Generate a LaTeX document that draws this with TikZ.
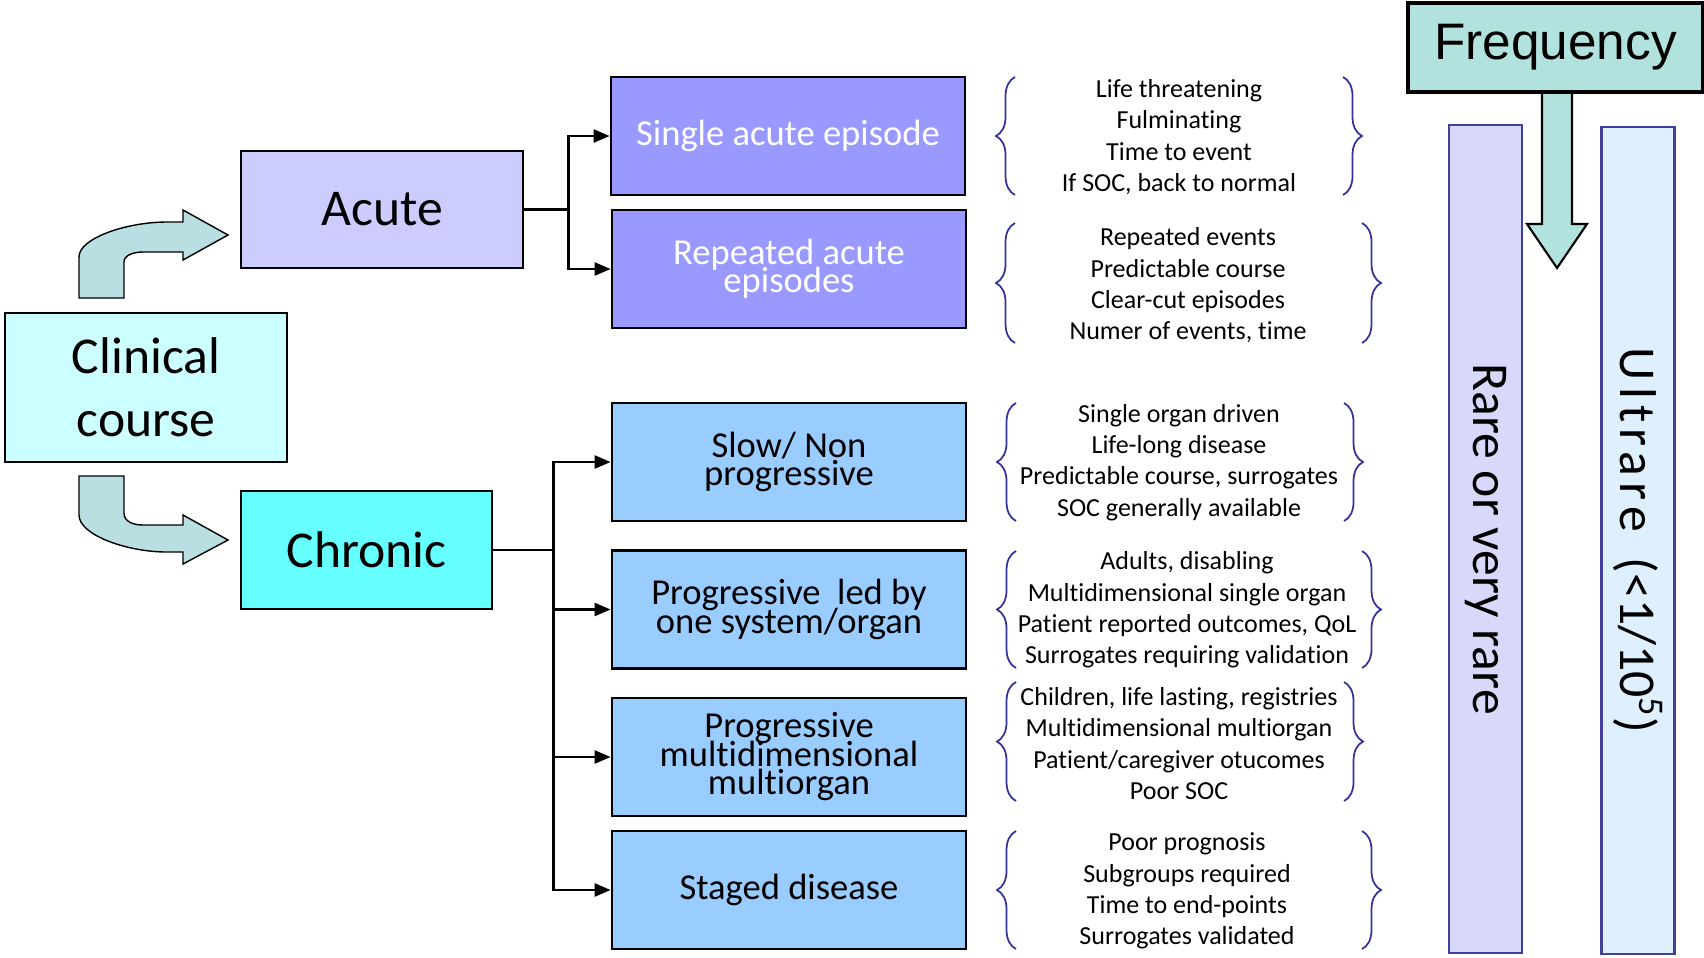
\documentclass[tikz,border=0pt]{standalone}
\usepackage{fontspec}
\setmainfont{Carlito}[Ligatures=NoCommon]
\newfontfamily\arialfont{Liberation Sans}
\usetikzlibrary{arrows.meta,decorations.pathreplacing}

\definecolor{clincol}{HTML}{CCFFFF}
\definecolor{acutecol}{HTML}{CCCCFF}
\definecolor{chroncol}{HTML}{66FFFF}
\definecolor{episcol}{HTML}{9999FF}
\definecolor{progcol}{HTML}{99CCFF}
\definecolor{curvecol}{HTML}{B9DFE2}
\definecolor{bracecol}{HTML}{333399}
\definecolor{freqcol}{HTML}{B2E2DD}
\definecolor{rarecol}{HTML}{D8D8FB}
\definecolor{ultracol}{HTML}{DEEFFD}
\definecolor{barline}{HTML}{40409A}

\newcommand\tightlines{\lineskiplimit=-10pt\relax}

\tikzset{
  bigfont/.style={font=\fontsize{14.7}{18}\selectfont},
  mainbox/.style={draw, line width=0.8pt, bigfont, align=center},
  subbox/.style={draw, line width=0.8pt, minimum width=3.54cm, minimum height=1.18cm,
    align=center, font=\fontsize{10.4}{8.1}\selectfont\tightlines},
  feat/.style={align=center, font=\fontsize{7.4}{8.9}\selectfont},
  curly/.style={decorate, decoration={brace, amplitude=0.19cm}, draw=bracecol, line width=0.5pt},
  link/.style={line width=0.7pt, -{Triangle[length=0.16cm,width=0.13cm]}},
  fatarrow/.style={fill=curvecol, draw=black, line width=0.4pt},
  bar/.style={draw=barline, line width=0.8pt, rotate=-90, minimum height=0.73cm, bigfont},
}

\begin{document}
\begin{tikzpicture}
    \useasboundingbox (0,0) rectangle (17.04,9.57);

    % Course boxes
    \node[mainbox, fill=clincol, minimum width=2.82cm, minimum height=1.49cm, line width=0.5pt] (clin) at (1.46,5.695) {Clinical\\course};
    \node[mainbox, fill=acutecol, minimum width=2.82cm, minimum height=1.17cm] (acute) at (3.82,7.475) {Acute};
    \node[mainbox, fill=chroncol, minimum width=2.51cm, minimum height=1.18cm] (chronic) at (3.665,4.07) {Chronic};

    % Curved arrows
    \draw[fatarrow] (0.79,6.59) -- (0.79,7.00) .. controls (0.79,7.19) and (1.27,7.35) .. (1.67,7.35)
        -- (1.83,7.35) -- (1.83,7.47) -- (2.28,7.22) -- (1.83,6.97) -- (1.83,7.05) -- (1.43,7.05)
        .. controls (1.34,7.05) and (1.24,7.02) .. (1.24,6.95) -- (1.24,6.59) -- cycle;
    \draw[fatarrow] (0.79,4.81) -- (0.79,4.42) .. controls (0.79,4.22) and (1.27,4.05) .. (1.67,4.05)
        -- (1.83,4.05) -- (1.83,3.93) -- (2.28,4.17) -- (1.83,4.42) -- (1.83,4.32) -- (1.43,4.32)
        .. controls (1.34,4.32) and (1.24,4.35) .. (1.24,4.44) -- (1.24,4.81) -- cycle;

    % Acute types
    \node[subbox, fill=episcol, text=white] (single) at (7.88,8.21) {Single acute episode};
    \node[subbox, fill=episcol, text=white] (repeated) at (7.89,6.88) {Repeated acute\\episodes};

    % Chronic types
    \node[subbox, fill=progcol] (slow) at (7.89,4.95) {Slow/ Non\\progressive};
    \node[subbox, fill=progcol] (onesys) at (7.89,3.475) {Progressive~ led by\\one system/organ};
    \node[subbox, fill=progcol] (multi) at (7.89,2.00) {Progressive\\multidimensional\\multiorgan};
    \node[subbox, fill=progcol] (staged) at (7.89,0.67) {Staged disease};

    % Connectors
    \draw[link] (acute.east) -- ++(0.44,0) |- (single.west);
    \draw[link] (acute.east) -- ++(0.44,0) |- (repeated.west);
    \draw[link] (chronic.east) -- ++(0.60,0) |- (slow.west);
    \draw[link] (chronic.east) -- ++(0.60,0) |- (onesys.west);
    \draw[link] (chronic.east) -- ++(0.60,0) |- (multi.west);
    \draw[link] (chronic.east) -- ++(0.60,0) |- (staged.west);

    % Features
    \node[feat] (featsingle) at (11.79,8.20) {Life threatening\\Fulminating\\Time to event\\If SOC, back to normal};
    \node[feat] (featrepeated) at (11.88,6.715) {Repeated events\\Predictable course\\Clear-cut episodes\\Numer of events, time};
    \node[feat] (featslow) at (11.79,4.945) {Single organ driven\\Life-long disease\\Predictable course, surrogates\\SOC generally available};
    \node[feat] (featonesys) at (11.87,3.47) {Adults, disabling\\Multidimensional single organ\\Patient reported outcomes, QoL\\Surrogates requiring validation};
    \node[feat] (featmulti) at (11.79,2.135) {Children, life lasting, registries\\Multidimensional multiorgan\\Patient/caregiver otucomes\\Poor SOC};
    \node[feat] (featstaged) at (11.87,0.66) {Poor prognosis\\Subgroups required\\Time to end-points\\Surrogates validated};

    % Braces
    \draw[curly] (10.15,7.62) -- (10.15,8.80);
    \draw[curly] (13.43,8.80) -- (13.43,7.62);
    \draw[curly] (10.15,6.14) -- (10.15,7.34);
    \draw[curly] (13.62,7.34) -- (13.62,6.14);
    \draw[curly] (10.16,4.36) -- (10.16,5.54);
    \draw[curly] (13.44,5.54) -- (13.44,4.36);
    \draw[curly] (10.16,2.89) -- (10.16,4.06);
    \draw[curly] (13.62,4.06) -- (13.62,2.89);
    \draw[curly] (10.16,1.56) -- (10.16,2.75);
    \draw[curly] (13.44,2.75) -- (13.44,1.56);
    \draw[curly] (10.16,0.08) -- (10.16,1.26);
    \draw[curly] (13.62,1.26) -- (13.62,0.08);

    % Frequency
    \node[bar, fill=rarecol, minimum width=8.28cm] (rare) at (14.855,4.18) {Rare or very rare};
    \node[bar, fill=ultracol, minimum width=8.27cm] (ultra) at (16.38,4.165) {{\addfontfeature{LetterSpace=12}Ultrare}\kern4pt\ (<1/10\textsuperscript{5})};
    \draw[fill=freqcol, line width=0.6pt, shift={(15.57,8.65)}] (-0.15,0) -- (-0.15,-1.32) -- (-0.30,-1.32)
        -- (0,-1.76) -- (0.30,-1.32) -- (0.15,-1.32) -- (0.15,0);
    \node[draw, fill=freqcol, line width=1pt, minimum width=2.95cm, minimum height=0.89cm,
        font=\arialfont\fontsize{14.6}{16}\selectfont] (freq) at (15.555,9.095) {Frequency};
\end{tikzpicture}
\end{document}
